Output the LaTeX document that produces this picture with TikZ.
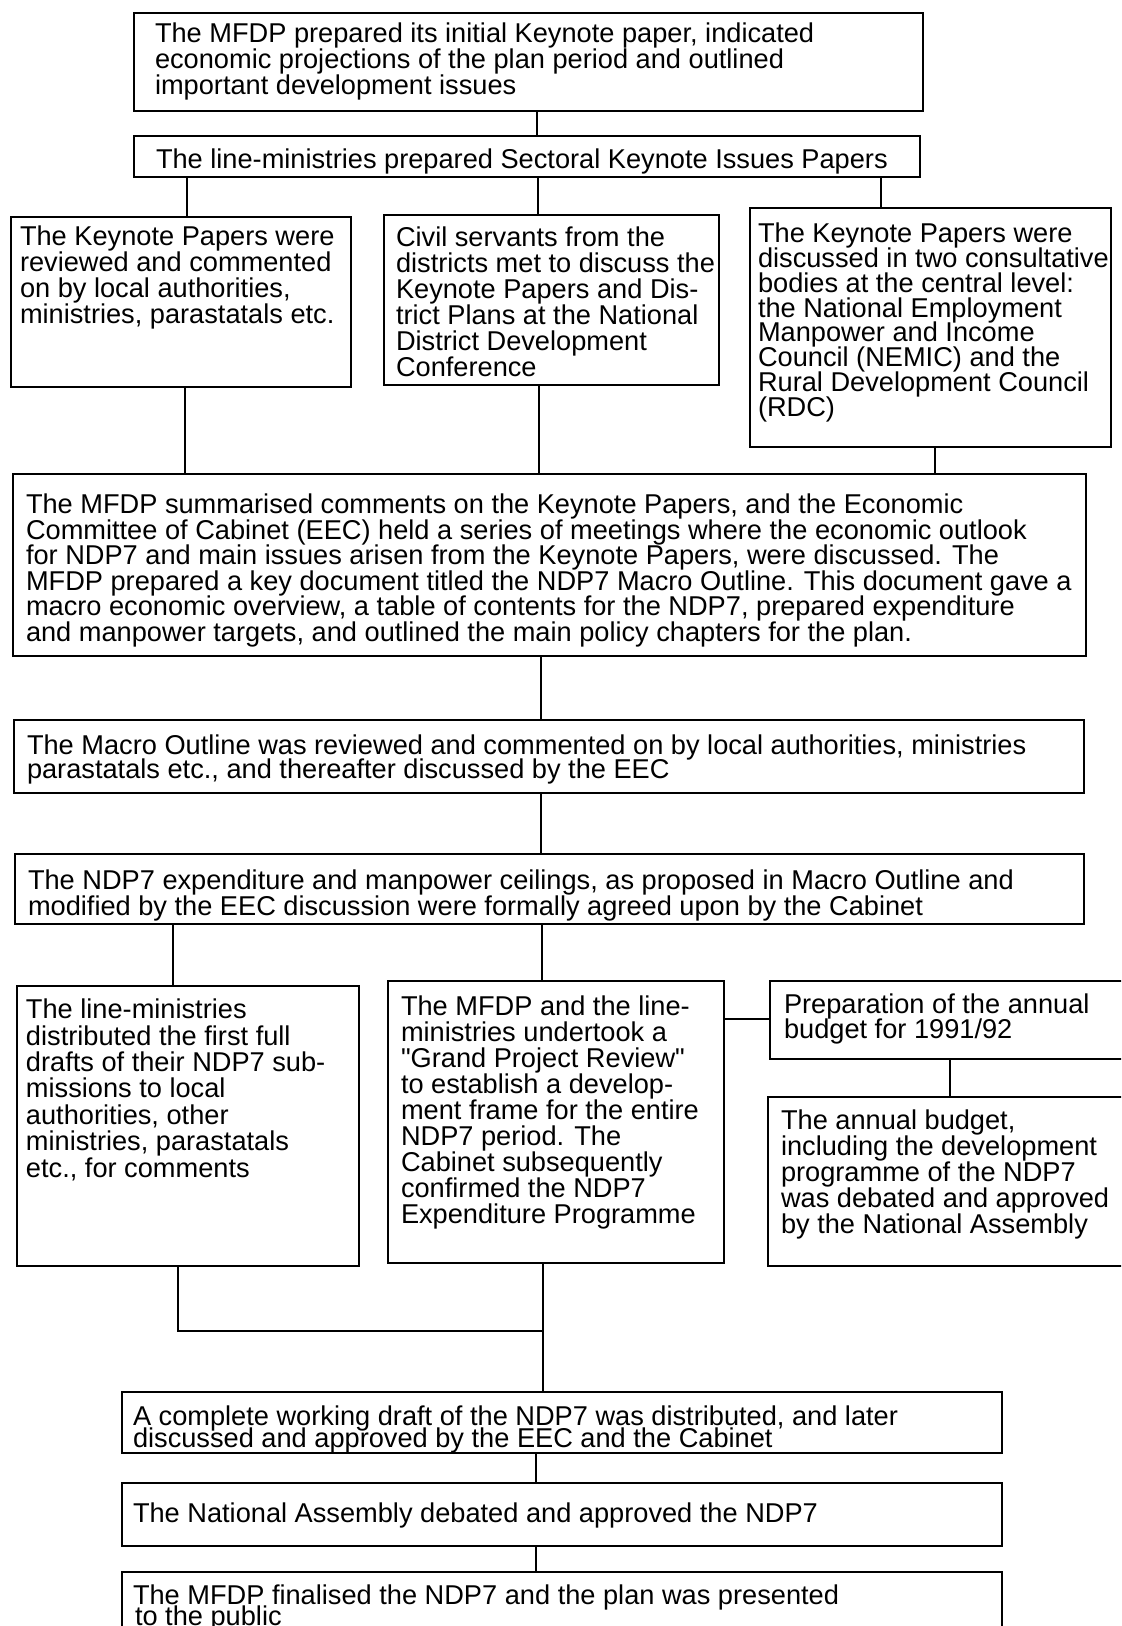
\documentclass[tikz,border=0pt]{standalone}
\usepackage{fontspec}
\setmainfont{Liberation Sans}

\newlength{\px}\setlength{\px}{0.5pt}
% width, height, left pad, top pad, text
\newcommand{\boxtext}[5]{\parbox[c][#2\px][t]{#1\px}{\vspace*{#4\px}\lineskiplimit=-100pt\leftskip=#3\px\rightskip=-40pt plus 1fil\relax #5\par}}

\tikzset{
  stepbox/.style={draw, line width=1pt, inner sep=0pt, anchor=north west,
    font=\fontsize{13.6pt}{13pt}\selectfont},
  link/.style={line width=0.8pt}
}

\begin{document}
\begin{tikzpicture}[x=0.5pt,y=-0.5pt]
\useasboundingbox (0,0) rectangle (1121,1626);
\clip (0,0) rectangle (1121,1626);

\node[stepbox] (key) at (133,12) {\boxtext{789}{98}{21}{10}{The MFDP prepared its initial Keynote paper, indicated\\ economic projections of the plan period and outlined\\ important development issues}};
\node[stepbox] (sect) at (133,135) {\boxtext{786}{41}{22}{13}{The line-ministries prepared Sectoral Keynote Issues Papers}};

\node[stepbox] (rev) at (10,216) {\boxtext{340}{170}{9}{9}{The Keynote Papers were\\ reviewed and commented\\ on by local authorities,\\ ministries, parastatals etc.}};
\node[stepbox] (dist) at (383,214) {\boxtext{335}{170}{12}{12}{Civil servants from the\\ districts met to discuss the\\ Keynote Papers and Dis-\\ trict Plans at the National\\ District Development\\ Conference}};
\node[stepbox, font=\fontsize{13.6pt}{12.4pt}\selectfont] (cons) at (749,207) {\boxtext{361}{239}{8}{15}{The Keynote Papers were\\ discussed in two consultative\\ bodies at the central level:\\ the National Employment\\ Manpower and Income\\ Council (NEMIC) and the\\ Rural Development Council\\ (RDC)}};

\node[stepbox, font=\fontsize{13.6pt}{12.75pt}\selectfont] (summ) at (12,473) {\boxtext{1073}{182}{13}{20}{The MFDP summarised comments on the Keynote Papers, and the Economic\\ Committee of Cabinet (EEC) held a series of meetings where the economic outlook\\ for NDP7 and main issues arisen from the Keynote Papers, were discussed. The\\ MFDP prepared a key document titled the NDP7 Macro Outline. This document gave a\\ macro economic overview, a table of contents for the NDP7, prepared expenditure\\ and manpower targets, and outlined the main policy chapters for the plan.}};

\node[stepbox, font=\fontsize{13.6pt}{12pt}\selectfont] (macro) at (13,719) {\boxtext{1070}{73}{13}{15}{The Macro Outline was reviewed and commented on by local authorities, ministries\\ parastatals etc., and thereafter discussed by the EEC}};
\node[stepbox] (ceil) at (14,853) {\boxtext{1069}{70}{13}{16}{The NDP7 expenditure and manpower ceilings, as proposed in Macro Outline and\\ modified by the EEC discussion were formally agreed upon by the Cabinet}};

\node[stepbox, font=\fontsize{13.6pt}{13.2pt}\selectfont] (subm) at (16,985) {\boxtext{342}{280}{9}{13}{The line-ministries\\ distributed the first full\\ drafts of their NDP7 sub-\\ missions to local\\ authorities, other\\ ministries, parastatals\\ etc., for comments}};
\node[stepbox] (gpr) at (387,980) {\boxtext{336}{282}{13}{15}{The MFDP and the line-\\ ministries undertook a\\ \textquotedbl Grand Project Review\textquotedbl\\ to establish a develop-\\ ment frame for the entire\\ NDP7 period. The\\ Cabinet subsequently\\ confirmed the NDP7\\ Expenditure Programme}};
\node[stepbox, font=\fontsize{13.6pt}{12.5pt}\selectfont] (prep) at (769,980) {\boxtext{380}{78}{14}{13}{Preparation of the annual\\ budget for 1991/92}};
\node[stepbox] (annual) at (767,1096) {\boxtext{380}{169}{13}{13}{The annual budget,\\ including the development\\ programme of the NDP7\\ was debated and approved\\ by the National Assembly}};

\node[stepbox, font=\fontsize{13.6pt}{11pt}\selectfont] (draft) at (121,1391) {\boxtext{880}{61}{11}{14}{A complete working draft of the NDP7 was distributed, and later\\ discussed and approved by the EEC and the Cabinet}};
\node[stepbox] (nadeb) at (121,1482) {\boxtext{880}{63}{11}{20}{The National Assembly debated and approved the NDP7}};
\node[stepbox, font=\fontsize{13.6pt}{10.5pt}\selectfont] (final) at (121,1571) {\boxtext{880}{80}{11}{13}{The MFDP finalised the NDP7 and the plan was presented\\ \hspace*{2\px}to the public}};

\coordinate (join) at (543,1331);

\draw[link] (537,0 |- key.south) -- (537,0 |- sect.north);
\draw[link] (187,0 |- sect.south) -- (187,0 |- rev.north);
\draw[link] (538,0 |- sect.south) -- (538,0 |- dist.north);
\draw[link] (881,0 |- sect.south) -- (881,0 |- cons.north);
\draw[link] (185,0 |- rev.south) -- (185,0 |- summ.north);
\draw[link] (539,0 |- dist.south) -- (539,0 |- summ.north);
\draw[link] (935,0 |- cons.south) -- (935,0 |- summ.north);
\draw[link] (541,0 |- summ.south) -- (541,0 |- macro.north);
\draw[link] (541,0 |- macro.south) -- (541,0 |- ceil.north);
\draw[link] (173,0 |- ceil.south) -- (173,0 |- subm.north);
\draw[link] (542,0 |- ceil.south) -- (542,0 |- gpr.north);
\draw[link] (gpr.east |- 0,1019) -- (prep.west |- 0,1019);
\draw[link] (950,0 |- prep.south) -- (950,0 |- annual.north);
\draw[link] (178,0 |- subm.south) -- (178,0 |- join) -- (join);
\draw[link] (543,0 |- gpr.south) -- (543,0 |- draft.north);
\draw[link] (536,0 |- draft.south) -- (536,0 |- nadeb.north);
\draw[link] (536,0 |- nadeb.south) -- (536,0 |- final.north);
\end{tikzpicture}
\end{document}
